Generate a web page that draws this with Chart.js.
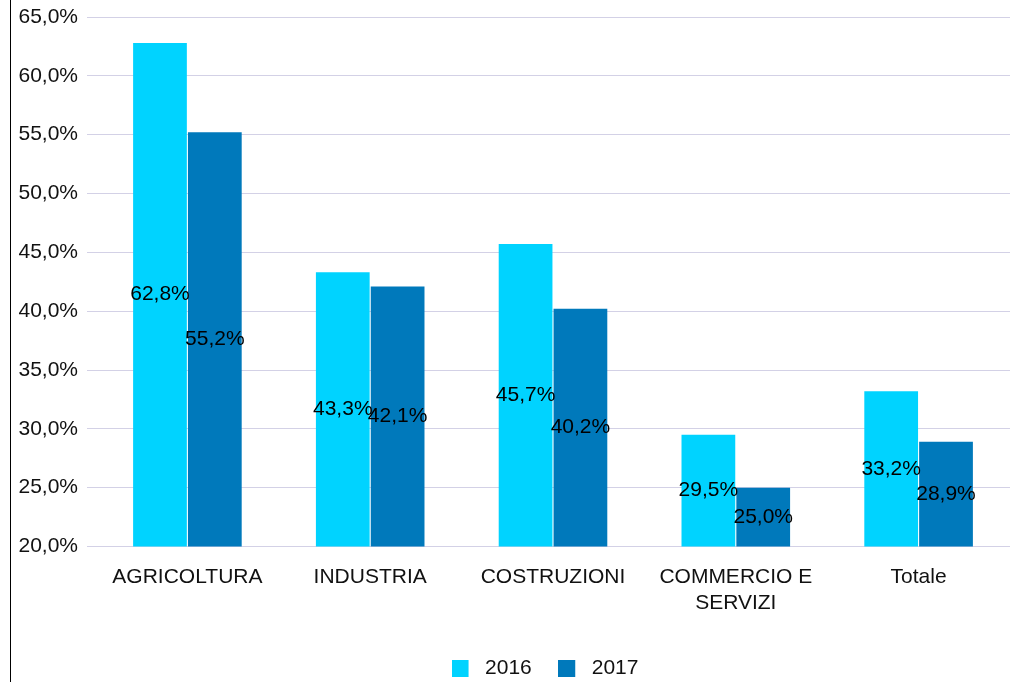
<!DOCTYPE html>
<html>
<head>
<meta charset="utf-8">
<script src="https://cdn.jsdelivr.net/npm/chart.js@4/dist/chart.umd.min.js"></script>
<style>
  html, body { margin: 0; padding: 0; background: #fff; }
  #wrap { position: relative; width: 1032px; height: 682px; }
  #edge { position: absolute; left: 10px; top: 0; width: 1px; height: 682px; background: #000; }
  canvas { position: absolute; left: 0; top: 0; }
</style>
</head>
<body>
<div id="wrap">
  <canvas id="chart" width="1032" height="682"></canvas>
  <div id="edge"></div>
</div>
<script>
const categories = ["AGRICOLTURA", "INDUSTRIA", "COSTRUZIONI", ["COMMERCIO E", "SERVIZI"], "Totale"];
const years = ["2016", "2017"];
const values2016 = [62.8, 43.3, 45.7, 29.5, 33.2];
const values2017 = [55.2, 42.1, 40.2, 25.0, 28.9];
const yMin = 20;
const yMax = 65;
const yStep = 5;

const colors = ["#00d3ff", "#0079bb"];
const FONT = "'Liberation Sans', Arial, sans-serif";
const TEXT = "#111";
const fmt = (v) => v.toFixed(1).replace(".", ",") + "%";

// legend marker: 17px square on a wider transparent canvas, leaves a gap before the text
function legendSwatch(color) {
    const c = document.createElement("canvas");
    c.width = 23;
    c.height = 17;
    const g = c.getContext("2d");
    g.fillStyle = color;
    g.fillRect(0, 0, 17, 17);
    return c;
}

// draws the value in the middle of the visible part of each bar
const barValues = {
    id: "barValues",
    afterDatasetsDraw(chart) {
        const ctx = chart.ctx;
        const bottom = chart.chartArea.bottom;
        ctx.save();
        ctx.font = "21px " + FONT;
        ctx.fillStyle = "#000";
        ctx.textAlign = "center";
        ctx.textBaseline = "middle";
        chart.data.datasets.forEach((ds, i) => {
            chart.getDatasetMeta(i).data.forEach((bar, j) => {
                const base = Math.min(bar.base, bottom);
                ctx.fillText(fmt(ds.data[j]), bar.x, (bar.y + base) / 2);
            });
        });
        ctx.restore();
    },
};

// legend in the reference is centred a bit right of the canvas middle
const legendShift = {
    id: "legendShift",
    afterLayout(chart) {
        if (chart.legend) chart.legend.left = 80;
    },
};

new Chart(document.getElementById("chart"), {
    type: "bar",
    data: {
        labels: categories,
        datasets: [
            {
                label: years[0],
                data: values2016,
                backgroundColor: colors[0],
                pointStyle: legendSwatch(colors[0]),
                categoryPercentage: 0.6,
                barPercentage: 0.98,
            },
            {
                label: years[1],
                data: values2017,
                backgroundColor: colors[1],
                pointStyle: legendSwatch(colors[1]),
                categoryPercentage: 0.6,
                barPercentage: 0.98,
            },
        ],
    },
    options: {
        responsive: false,
        animation: false,
        layout: { padding: { top: 17, right: 22, bottom: -7, left: 0 } },
        scales: {
            x: {
                grid: { display: false, drawTicks: false },
                border: { display: false },
                ticks: {
                    color: TEXT,
                    font: { size: 21, family: FONT, lineHeight: 1.24 },
                    padding: 18,
                    maxRotation: 0,
                    autoSkip: false,
                },
                afterFit: (scale) => { scale.height = 85; },
            },
            y: {
                min: yMin,
                max: yMax,
                grid: { color: "#d3d1e6", lineWidth: 1, tickLength: 9 },
                border: { display: false },
                ticks: {
                    stepSize: yStep,
                    color: TEXT,
                    font: { size: 21, family: FONT },
                    padding: 9,
                    callback: (v) => fmt(v),
                },
                afterFit: (scale) => {
                    scale.width = 96;
                    scale.paddingTop = 0;
                    scale.paddingBottom = 0;
                },
            },
        },
        plugins: {
            legend: {
                position: "bottom",
                labels: {
                    color: TEXT,
                    font: { size: 21, family: FONT },
                    usePointStyle: true,
                    pointStyleWidth: 23,
                    boxHeight: 17,
                    padding: 26.5,
                },
            },
            tooltip: { enabled: false },
        },
    },
    plugins: [barValues, legendShift],
});
</script>
</body>
</html>
